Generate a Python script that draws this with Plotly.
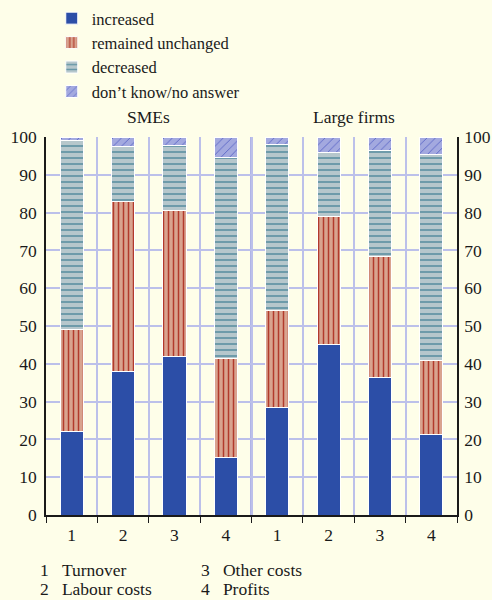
import plotly.graph_objects as go

categories = ["1", "2", "3", "4"]
groups = ["SMEs", "Large firms"]
increased = [22, 38, 42, 15.3, 28.5, 45, 36.5, 21.3]
remained = [27, 45, 38.5, 26.1, 25.7, 34.1, 32, 19.6]
decreased = [50, 14.5, 17.2, 53.2, 43.7, 16.9, 27.9, 54.5]
dont_know = [1, 2.5, 2.3, 5.4, 2.1, 4, 3.6, 4.6]
footnotes = ["1   Turnover", "2   Labour costs", "3   Other costs", "4   Profits"]
yticks = [0, 10, 20, 30, 40, 50, 60, 70, 80, 90, 100]

xpos = list(range(len(increased)))
ticktext = categories * 2

BG = "#fefee9"
GRID = "#bcc0ea"
FONT = "Liberation Serif"
FS = 17.5

fig = go.Figure()
line = dict(color="white", width=1)
W = 0.45
fig.add_bar(x=xpos, y=increased, name="increased", width=W,
            marker=dict(color="#2c4ea7", line=line))
fig.add_bar(x=xpos, y=remained, name="remained unchanged", width=W,
            marker=dict(color="#d9a38f", line=line,
                        pattern=dict(shape="|", fgcolor="#b23a2c", bgcolor="#d9a38f",
                                     size=5, solidity=0.3, fillmode="replace")))
fig.add_bar(x=xpos, y=decreased, name="decreased", width=W,
            marker=dict(color="#b6c7cc", line=line,
                        pattern=dict(shape="-", fgcolor="#6696a6", bgcolor="#b6c7cc",
                                     size=6, solidity=0.3, fillmode="replace")))
fig.add_bar(x=xpos, y=dont_know, name="don’t know/no answer", width=W,
            marker=dict(color="#a3a9df", line=line,
                        pattern=dict(shape="/", fgcolor="#5a66c6", bgcolor="#a3a9df",
                                     size=6, solidity=0.15, fillmode="replace")))

bounds = [i - 0.5 for i in range(len(xpos) + 1)]
fig.update_layout(
    width=492, height=600,
    barmode="stack",
    paper_bgcolor=BG, plot_bgcolor=BG,
    margin=dict(l=46, r=35, t=137, b=85, autoexpand=False),
    font=dict(family=FONT, size=FS, color="#1a1a1a"),
    showlegend=True,
    legend=dict(x=0.014, y=1.36, xanchor="left", yanchor="top",
                bgcolor="rgba(0,0,0,0)", font=dict(size=16.5), tracegroupgap=0,
                itemwidth=30, traceorder="normal"),
    xaxis=dict(range=[-0.5, 7.5], tickvals=bounds, showticklabels=False,
               showgrid=True, gridcolor=GRID, gridwidth=1.5,
               ticks="outside", ticklen=6, tickcolor="#1a1a1a", tickwidth=1.2,
               showline=True, linecolor="#1a1a1a", linewidth=1.5, zeroline=False),
    xaxis2=dict(range=[-0.5, 7.5], overlaying="x", anchor="y", side="bottom",
                tickvals=xpos, ticktext=ticktext, ticks="", showgrid=False,
                showline=False, zeroline=False, tickfont=dict(size=FS),
                ticklabelstandoff=7),
    yaxis=dict(range=[0, 100], tickvals=yticks, showgrid=True, gridcolor=GRID,
               gridwidth=1.5, showline=True, linecolor="#1a1a1a", linewidth=1.5,
               ticks="", zeroline=False, tickfont=dict(size=FS),
               ticklabelstandoff=4),
    yaxis2=dict(range=[0, 100], tickvals=yticks, overlaying="y", side="right",
                anchor="x", showgrid=False, showline=True, linecolor="#1a1a1a",
                linewidth=1.5, ticks="", zeroline=False, tickfont=dict(size=FS),
                ticklabelstandoff=2),
)

# invisible trace to activate secondary axes
fig.add_scatter(x=[xpos[0]], y=[0], xaxis="x2", yaxis="y2", mode="markers",
                marker=dict(opacity=0), showlegend=False, hoverinfo="skip")

# thicker separator between the two groups
fig.add_shape(type="line", xref="x", yref="paper", x0=3.5, x1=3.5, y0=0, y1=1,
              line=dict(color="#b0b4e6", width=3), layer="below")

for i, g in enumerate(groups):
    fig.add_annotation(x=1.5 + 4 * i, y=1.022, xref="x", yref="paper", text=g,
                       showarrow=False, yanchor="bottom", font=dict(size=FS))

for i, t in enumerate(footnotes):
    col, row = divmod(i, 2)
    fig.add_annotation(x=(38 + 161 * col - 46) / 411, y=(515 - 570 - 19 * row) / 378,
                       xref="paper", yref="paper", text=t.replace(" ", "&nbsp;"),
                       showarrow=False, xanchor="left", yanchor="middle",
                       font=dict(size=FS))

fig.write_html("out.html", config={"displayModeBar": False},
               post_script="document.body.style.margin='0';"
                           "document.body.style.overflow='hidden';"
                           "document.body.style.background='#fefee9';")
